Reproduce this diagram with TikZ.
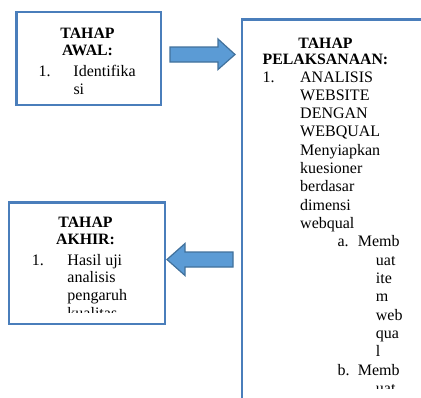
\documentclass[tikz,border=0pt]{standalone}
\usepackage{fontspec}
\setmainfont{Liberation Serif}
\definecolor{boxblue}{RGB}{74,126,187}
\definecolor{arrfill}{RGB}{91,155,213}
\definecolor{arrline}{RGB}{65,113,156}
\tikzset{
  stagebox/.style={draw=boxblue, line width=2.4pt, fill=white, inner sep=0pt, anchor=north west},
  blockarrow/.style={fill=arrfill, draw=arrline, line width=1.2pt, line join=miter},
  ttl/.style={font=\fontsize{15.8pt}{16.5pt}\selectfont\bfseries, inner sep=0pt, anchor=base},
  lst/.style={font=\fontsize{16pt}{18.33pt}\selectfont, inner sep=0pt, anchor=base west}
}
\begin{document}
\begin{tikzpicture}[x=1pt,y=-1pt]
\clip (0,0) rectangle (421,397);
\fill[white] (0,0) rectangle (421,397);
% boxes
\node[stagebox, minimum width=144.2pt, minimum height=93.1pt] (awal) at (15.3,10.7) {};
\node[stagebox, minimum width=200pt, minimum height=400pt] (pel) at (240.5,18.3) {};
\node[stagebox, minimum width=155.8pt, minimum height=121.7pt] (akhir) at (8,201.3) {};
% arrows
\coordinate (ra) at (170,54.5);
\draw[blockarrow] (ra) ++(0,-7.5) -- ++(48,0) -- ++(0,-8) -- (235,54.5) -- (218,69.5) -- ++(0,-7.5) -- ++(-48,0) -- cycle;
\coordinate (la) at (233,259.5);
\draw[blockarrow] (la) ++(0,-7.5) -- (185,252) -- (185,243.5) -- (167,259.5) -- (185,275.5) -- (185,267) -- (233,267) -- cycle;
% text box 1
\node[ttl] (t1a) at (87.5,38) {TAHAP};
\node[ttl] (t1b) at (87.5,55) {AWAL:};
\node[lst] (l1) at (38.3,76.5) {\begin{minipage}[t]{120pt}\fontsize{16pt}{18pt}\selectfont
\makebox[35pt][l]{1.}Identifika\\
\hspace*{35pt}si
\end{minipage}};
% text box 2
\node[ttl] (t2a) at (325.5,48.3) {TAHAP};
\node[ttl] (t2b) at (325.5,64.3) {PELAKSANAAN:};
\begin{scope}
\clip (245,20) rectangle (421,388.5);
\node[lst] (l2) at (262.5,82) {\begin{minipage}[t]{160pt}\fontsize{16pt}{18.33pt}\selectfont
\makebox[37.5pt][l]{1.}ANALISIS\\
\hspace*{37.5pt}WEBSITE\\
\hspace*{37.5pt}DENGAN\\
\hspace*{37.5pt}WEBQUAL\\
\hspace*{37.5pt}Menyiapkan\\
\hspace*{37.5pt}kuesioner\\
\hspace*{37.5pt}berdasar\\
\hspace*{37.5pt}dimensi\\
\hspace*{37.5pt}webqual\\
\hspace*{74.8pt}\makebox[20.4pt][l]{a.}Memb\\
\hspace*{113.2pt}uat\\
\hspace*{113.2pt}ite\\
\hspace*{113.2pt}m\\
\hspace*{113.2pt}web\\
\hspace*{113.2pt}qua\\
\hspace*{113.2pt}l\\
\hspace*{74.8pt}\makebox[20.4pt][l]{b.}Memb\\
\hspace*{113.2pt}uat
\end{minipage}};
\end{scope}
% text box 3
\node[ttl] (t3a) at (85.5,227.7) {TAHAP};
\node[ttl] (t3b) at (85.5,244.3) {AKHIR:};
\begin{scope}
\clip (12,205) rectangle (160,312.3);
\node[lst] (l3) at (31.7,265) {\begin{minipage}[t]{120pt}\fontsize{16pt}{17.7pt}\selectfont
\makebox[35.6pt][l]{1.}Hasil uji\\
\hspace*{35.6pt}analisis\\
\hspace*{35.6pt}pengaruh\\
\hspace*{35.6pt}kualitas
\end{minipage}};
\end{scope}
\end{tikzpicture}
\end{document}
